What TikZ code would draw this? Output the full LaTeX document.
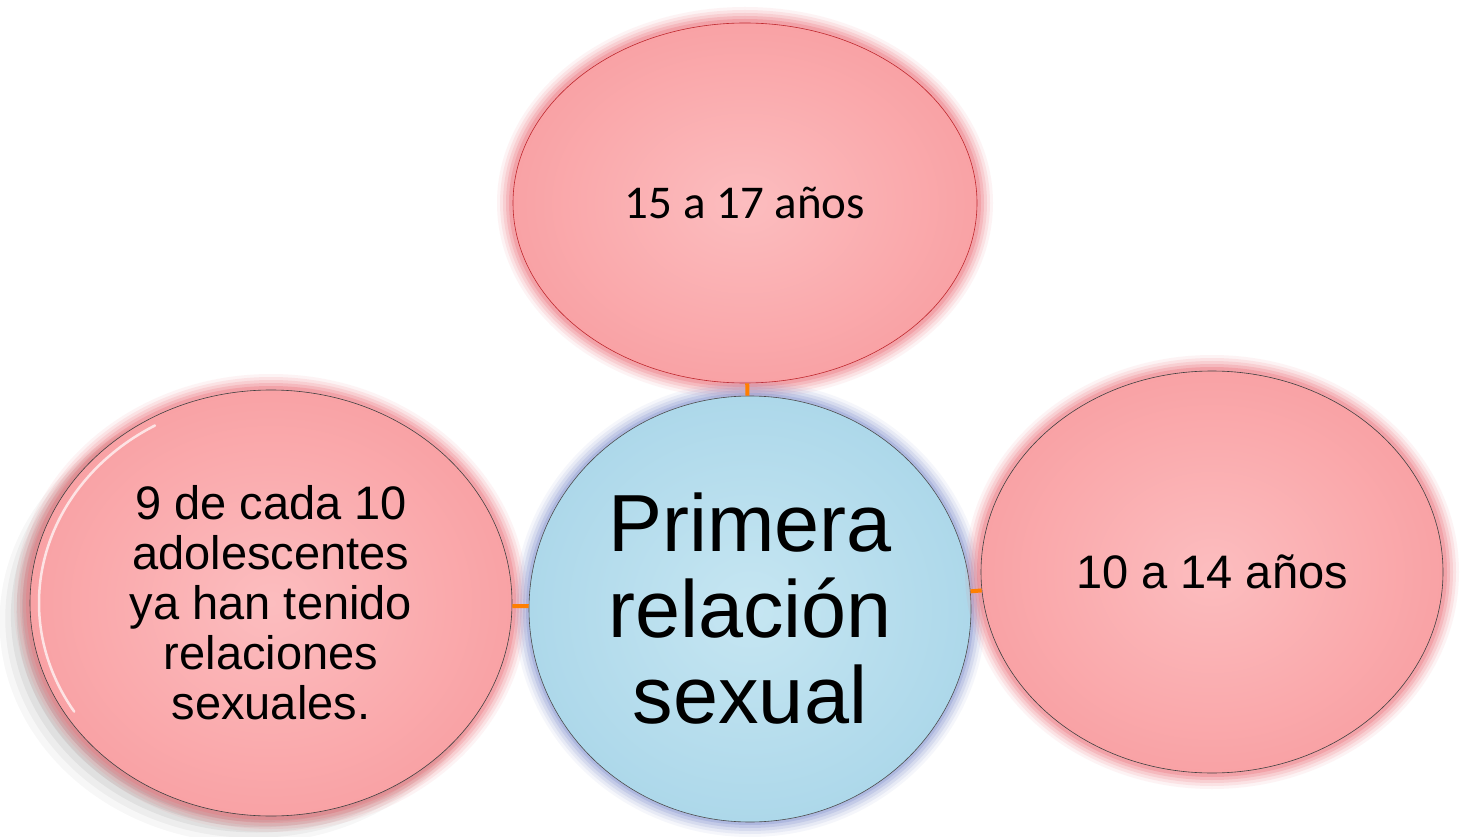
\documentclass[tikz,border=0pt]{standalone}
\usepackage{fontspec}
\setmainfont{Liberation Sans}
\newfontfamily\calibri{Carlito}
\usetikzlibrary{shapes.geometric,shadows,calc}
\definecolor{pinkin}{HTML}{FCBDBF}
\definecolor{pinkout}{HTML}{F9A2A5}
\definecolor{pinkglow}{HTML}{EE6F77}
\definecolor{bluein}{HTML}{C6E6F2}
\definecolor{blueout}{HTML}{ADD8EA}
\definecolor{blueglow}{HTML}{7A8ACB}
\definecolor{topline}{HTML}{C0282E}
\definecolor{linkorange}{HTML}{FF7F00}
\tikzstyle{bubble}=[ellipse,inner sep=0pt,align=center,shading=radial,inner color=pinkin,outer color=pinkout,draw=black!75,line width=0.6pt,
  preaction={draw=pinkglow,line width=32pt,draw opacity=0.08},
  preaction={draw=pinkglow,line width=26pt,draw opacity=0.12},
  preaction={draw=pinkglow,line width=20pt,draw opacity=0.16},
  preaction={draw=pinkglow,line width=14pt,draw opacity=0.22},
  preaction={draw=pinkglow,line width=8pt,draw opacity=0.3}]
\tikzstyle{hub}=[ellipse,inner sep=0pt,align=center,shading=radial,inner color=bluein,outer color=blueout,draw=black!70,line width=0.6pt,
  preaction={draw=blueglow,line width=30pt,draw opacity=0.07},
  preaction={draw=blueglow,line width=24pt,draw opacity=0.11},
  preaction={draw=blueglow,line width=18pt,draw opacity=0.15},
  preaction={draw=blueglow,line width=12pt,draw opacity=0.2},
  preaction={draw=blueglow,line width=6pt,draw opacity=0.28}]
\tikzstyle{shaded}=[drop shadow={shadow xshift=-20pt,shadow yshift=-18pt,shadow scale=1.04,fill=black,opacity=0.03},
  drop shadow={shadow xshift=-17pt,shadow yshift=-15pt,shadow scale=1.03,fill=black,opacity=0.04},
  drop shadow={shadow xshift=-14pt,shadow yshift=-12pt,shadow scale=1.02,fill=black,opacity=0.05},
  drop shadow={shadow xshift=-11pt,shadow yshift=-9pt,shadow scale=1.01,fill=black,opacity=0.06},
  drop shadow={shadow xshift=-8pt,shadow yshift=-6pt,fill=black,opacity=0.07}]
\tikzstyle{link}=[draw=linkorange,line width=4pt]

\begin{document}
\begin{tikzpicture}[x=1pt,y=1pt]
\fill[white] (0,0) rectangle (1460,-834);
\node[bubble,draw=topline,minimum width=464pt,minimum height=360pt,font=\calibri\fontsize{47}{50}\selectfont] (Top) at (745,-203) {15 a 17 años};
\node[shaded,bubble,minimum width=482pt,minimum height=426pt,font=\fontsize{47}{50}\selectfont] (Left) at (271,-603) {9 de cada 10\\adolescentes\\ya han tenido\\relaciones\\sexuales.};
\draw[white,line width=2.5pt,opacity=0.7,line cap=round] ($(Left.center)+(120:232pt and 205pt)$) arc[start angle=120,end angle=212,x radius=232pt,y radius=205pt];
\node[hub,minimum width=442pt,minimum height=426pt,font=\fontsize{81}{86}\selectfont] (Centre) at (750,-609) {Primera\\relación\\sexual};
\node[bubble,minimum width=462pt,minimum height=402pt,font=\fontsize{47}{50}\selectfont] (Right) at (1212,-572) {10 a 14 años};
\draw[link] (Top) -- (Centre);
\draw[link] (Left) -- (Centre);
\draw[link] (Right) -- (Centre);
\end{tikzpicture}
\end{document}
